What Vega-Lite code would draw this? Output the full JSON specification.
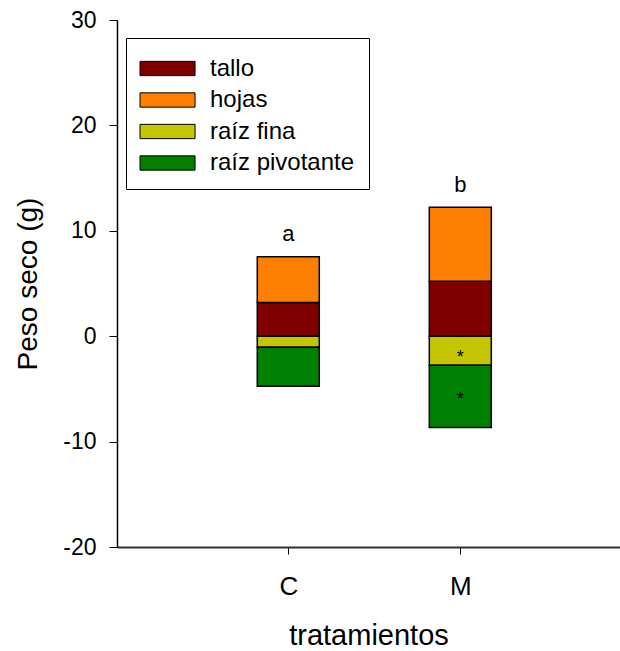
{
  "$schema": "https://vega.github.io/schema/vega-lite/v6.json",
  "width": 503,
  "height": 527,
  "autosize": {"type": "none"},
  "padding": {"left": 117, "top": 20, "right": 0, "bottom": 104},
  "config": {
    "view": {"stroke": null},
    "font": "Liberation Sans",
    "axis": {"grid": false, "domainColor": "black", "tickColor": "black", "labelColor": "black", "titleColor": "black", "labelFont": "Liberation Sans", "titleFont": "Liberation Sans", "titleFontWeight": "normal"}
  },
  "layer": [
    {
      "data": {"values": [
        {"tratamiento": "C", "componente": "tallo", "peso": 3.2, "orden": 1},
        {"tratamiento": "C", "componente": "hojas", "peso": 4.33, "orden": 2},
        {"tratamiento": "C", "componente": "raíz fina", "peso": -1.04, "orden": 3},
        {"tratamiento": "C", "componente": "raíz pivotante", "peso": -3.7, "orden": 4},
        {"tratamiento": "M", "componente": "tallo", "peso": 5.22, "orden": 1},
        {"tratamiento": "M", "componente": "hojas", "peso": 7.02, "orden": 2},
        {"tratamiento": "M", "componente": "raíz fina", "peso": -2.75, "orden": 3},
        {"tratamiento": "M", "componente": "raíz pivotante", "peso": -5.91, "orden": 4}
      ]},
      "mark": {"type": "bar", "size": 62, "stroke": "black", "strokeWidth": 1.5},
      "encoding": {
        "x": {"field": "tratamiento", "type": "nominal", "scale": {"type": "point", "domain": ["C", "M"], "padding": 0.962, "align": 0.5175},
          "axis": {"title": "tratamientos", "labelAngle": 0, "labelFontSize": 26, "titleFontSize": 29, "tickSize": 7, "labelPadding": 19, "titlePadding": 22, "domainWidth": 2, "domainColor": "#333333"}},
        "y": {"field": "peso", "type": "quantitative", "stack": "zero", "scale": {"domain": [-20, 30], "nice": false, "zero": false},
          "axis": {"title": "Peso seco (g)", "values": [-20, -10, 0, 10, 20, 30], "labelExpr": "replace(datum.label, '\u2212', '-')", "tickSize": 8, "labelFontSize": 23, "titleFontSize": 28, "labelPadding": 13, "titlePadding": 20, "domainWidth": 1.5}},
        "color": {"field": "componente", "type": "nominal",
          "scale": {"domain": ["tallo", "hojas", "raíz fina", "raíz pivotante"], "range": ["#800000", "#FF8000", "#C6C600", "#008000"]},
          "legend": {"title": null, "orient": "none", "legendX": 9, "legendY": 18, "symbolType": "M-1.03,-0.447L2.41,-0.447L2.41,0.447L-1.03,0.447Z", "symbolSize": 1024, "symbolStrokeColor": "black", "symbolStrokeWidth": 1, "symbolOpacity": 1, "labelFontSize": 24, "labelFont": "Liberation Sans", "labelColor": "black", "labelLimit": 300, "labelExpr": "datum.label + '\u00a0\u00a0'", "strokeColor": "black", "fillColor": "white", "padding": 14, "labelOffset": 37, "rowPadding": 2.5}},
        "order": {"field": "orden"}
      }
    },
    {
      "mark": {"type": "rule", "color": "#333333", "strokeWidth": 1.3},
      "encoding": {"y": {"datum": 0}}
    },
    {
      "mark": {"type": "rule", "color": "black", "strokeWidth": 2},
      "encoding": {"y": {"datum": 30}}
    },
    {
      "data": {"values": [
        {"tratamiento": "C", "letra": "a", "y": 9.65},
        {"tratamiento": "M", "letra": "b", "y": 14.3}
      ]},
      "mark": {"type": "text", "fontSize": 22, "baseline": "middle", "color": "black"},
      "encoding": {
        "x": {"field": "tratamiento", "type": "nominal"},
        "y": {"field": "y", "type": "quantitative"},
        "text": {"field": "letra"}
      }
    },
    {
      "data": {"values": [
        {"tratamiento": "M", "marca": "*", "y": -2.1},
        {"tratamiento": "M", "marca": "*", "y": -6.1}
      ]},
      "mark": {"type": "text", "fontSize": 18, "baseline": "middle", "color": "black"},
      "encoding": {
        "x": {"field": "tratamiento", "type": "nominal"},
        "y": {"field": "y", "type": "quantitative"},
        "text": {"field": "marca"}
      }
    }
  ]
}
